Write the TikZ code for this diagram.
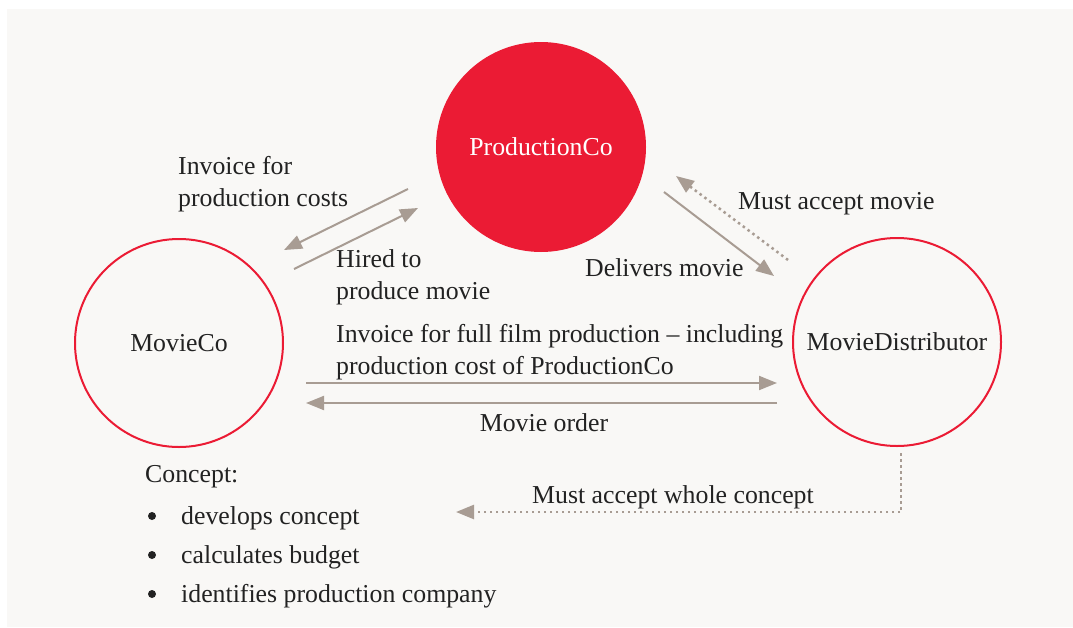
\documentclass[tikz,border=0pt]{standalone}
\usepackage{fontspec}
\setmainfont{Liberation Serif}
\usetikzlibrary{arrows.meta}
\definecolor{panel}{HTML}{F9F8F6}
\definecolor{pwcred}{HTML}{EB1B34}
\definecolor{arrowc}{HTML}{A89C93}
\definecolor{txt}{HTML}{222222}
\tikzset{
  every node/.style={font=\fontsize{25.8}{32}\selectfont, text=txt, inner sep=0pt},
  bubble/.style={circle, minimum size=208pt, draw=pwcred, line width=2pt},
  filledbubble/.style={circle, minimum size=210pt, fill=pwcred, text=white},
  lbl/.style={anchor=base west, align=left},
  bul/.style={circle, fill=txt, minimum size=8pt},
  flow/.style={draw=arrowc, line width=2pt, -{Triangle[length=18pt,width=14pt]}},
  dotflow/.style={draw=arrowc, line width=2.5pt, dash pattern=on 2.5pt off 3.5pt, -{Triangle[length=18pt,width=14pt]}},
}
\begin{document}
\begin{tikzpicture}[x=1pt,y=-1pt]
\useasboundingbox (0,0) rectangle (1073,627);
\fill[panel] (7,9) rectangle (1073,627);

\node[filledbubble] (prod) at (541,147) {ProductionCo};
\node[bubble] (movieco) at (179,343) {MovieCo};
\node[bubble] (dist) at (897,342) {MovieDistributor};

% coordinates for free-standing arrows
\coordinate (a1s) at (408,189); \coordinate (a1e) at (284,250);
\coordinate (a2s) at (294,269); \coordinate (a2e) at (418,208);
\coordinate (a3s) at (664,192); \coordinate (a3e) at (774,276);
\coordinate (a4s) at (788,260); \coordinate (a4e) at (676,176);
\coordinate (a5s) at (306,383); \coordinate (a5e) at (777,383);
\coordinate (a6s) at (777,403); \coordinate (a6e) at (306,403);
\coordinate (a7s) at (901,453); \coordinate (a7c) at (901,512); \coordinate (a7e) at (456,512);

\draw[flow] (a1s) -- (a1e);
\draw[flow] (a2s) -- (a2e);
\draw[flow] (a3s) -- (a3e);
\draw[dotflow] (a4s) -- (a4e);
\draw[flow] (a5s) -- (a5e);
\draw[flow] (a6s) -- (a6e);
\draw[dotflow] (a7s) -- (a7c) -- (a7e);

\node[lbl] (l1) at (178,206) {Invoice for\\production costs};
\node[lbl] (l2) at (336,299) {Hired to\\produce movie};
\node[lbl] (l3) at (738,209) {Must accept movie};
\node[lbl] (l4) at (585,276) {Delivers movie};
\node[lbl] (l5) at (336,374) {Invoice for full film production – including\\production cost of ProductionCo};
\node[anchor=base] (l6) at (544,431) {Movie order};
\node[anchor=base] (l7) at (673,503) {Must accept whole concept};

\node[lbl] (c0) at (145,482) {Concept:};
\node[bul] (b1) at (152,516) {};
\node[bul] (b2) at (152,555) {};
\node[bul] (b3) at (152,594) {};
\node[lbl] (c1) at (181,524) {develops concept};
\node[lbl] (c2) at (181,563) {calculates budget};
\node[lbl] (c3) at (181,602) {identifies production company};
\end{tikzpicture}
\end{document}
